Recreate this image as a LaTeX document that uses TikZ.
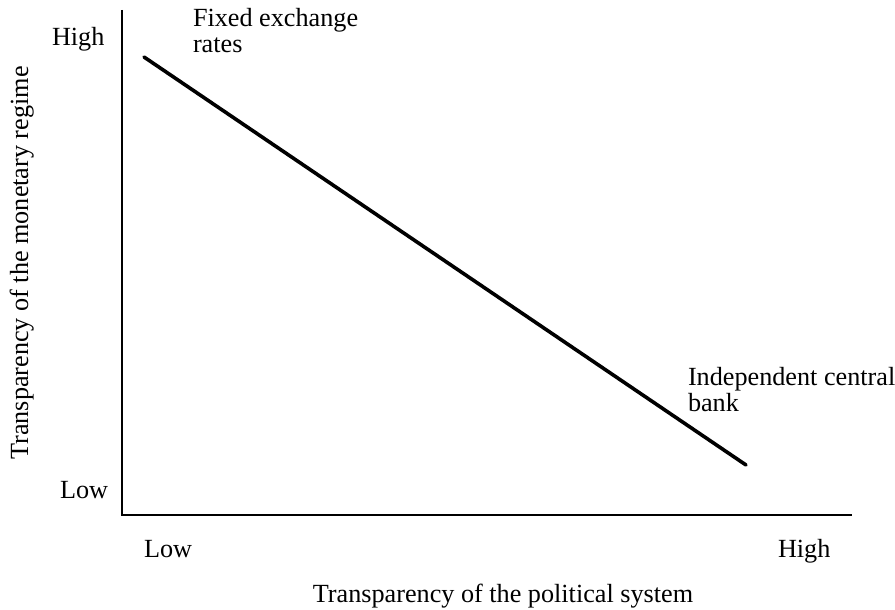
\documentclass[tikz,border=0pt]{standalone}
\usepackage{fontspec}
\setmainfont{Liberation Serif}
\begin{document}
\begin{tikzpicture}[x=1pt,y=-1pt,
  lbl/.style={inner sep=0pt,outer sep=0pt,font=\fontsize{26.2}{26}\selectfont},
  axis/.style={line width=2pt},
  trend/.style={line width=3.6pt,line cap=round}]
\useasboundingbox (0,0) rectangle (895,610);
\coordinate (top) at (122,10);
\coordinate (origin) at (122,515);
\coordinate (right) at (852,515);
\draw[axis] (top) -- (origin) -- (right);
\coordinate (start) at (144,57);
\coordinate (end) at (746,465);
\draw[trend] (start) -- (end);
\node[lbl,anchor=base west] (yhigh) at (52,46) {High};
\node[lbl,anchor=base west] (ylow) at (60,498) {Low};
\node[lbl,anchor=base west] (xlow) at (144,557) {Low};
\node[lbl,anchor=base west] (xhigh) at (778,557) {High};
\node[lbl,anchor=base] (xtitle) at (503,602) {Transparency of the political system};
\node[lbl,anchor=base,rotate=90] (ytitle) at (28,263) {Transparency of the monetary regime};
\node[lbl,anchor=base west,align=left] (fixed) at (193,53) {Fixed exchange\\rates};
\node[lbl,anchor=base west,align=left] (indep) at (688,411) {Independent central\\bank};
\end{tikzpicture}
\end{document}
